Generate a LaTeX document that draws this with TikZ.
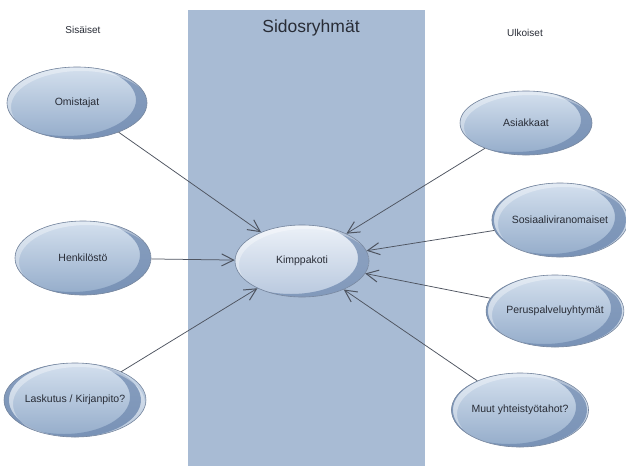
\documentclass[tikz,border=0pt]{standalone}
\usepackage{fontspec}
\setmainfont{Liberation Sans}
\usetikzlibrary{arrows.meta,shapes.geometric}

\definecolor{panel}{RGB}{168,187,212}
\definecolor{bubtop}{RGB}{212,224,238}
\definecolor{bubbot}{RGB}{148,172,202}
\definecolor{bubrim}{RGB}{118,134,158}
\definecolor{crescent}{RGB}{112,138,176}
\definecolor{hubtop}{RGB}{236,241,248}
\definecolor{hubbot}{RGB}{184,200,222}
\definecolor{wire}{RGB}{78,84,96}
\definecolor{ink}{RGB}{40,44,54}

\tikzset{
  % outer stakeholder bubble: #1 = x radius, #2 = y radius
  bubble/.style n args={2}{
    ellipse, draw=bubrim, line width=0.6pt, inner sep=0pt,
    minimum width={2*#1pt}, minimum height={2*#2pt},
    top color=bubtop, bottom color=bubbot,
    font=\fontsize{10.5}{12}\selectfont, text=ink,
    path picture={
      \fill[crescent, opacity=0.75, even odd rule]
        (path picture bounding box.center) ellipse [x radius=#1pt, y radius=#2pt]
        ([xshift=-11pt, yshift=3pt]path picture bounding box.center) ellipse [x radius=#1pt, y radius=#2pt];
      \fill[white, opacity=0.35, even odd rule]
        (path picture bounding box.center) ellipse [x radius=#1pt, y radius=#2pt]
        ([xshift=4pt, yshift=-4pt]path picture bounding box.center) ellipse [x radius=#1pt, y radius=#2pt];
    }},
  hub/.style n args={2}{
    bubble={#1}{#2}, top color=hubtop, bottom color=hubbot},
  heading/.style={text=ink, font=\fontsize{10}{12}\selectfont},
  link/.style={draw=wire, line width=0.75pt,
    -{Straight Barb[length=12pt,width=12pt,line width=1pt]}},
}

\begin{document}
\begin{tikzpicture}[x=1pt,y=-1pt]
  \useasboundingbox (0,0) rectangle (626,466);
  \fill[white] (0,0) rectangle (626,466);

  % central column
  \fill[panel] (188,10) rectangle (425,466);
  \node[text=ink, font=\fontsize{17.5}{20}\selectfont] (title) at (311,28) {Sidosryhmät};

  % column headings
  \node[heading] (sis) at (83,30) {Sisäiset};
  \node[heading] (ulk) at (525,33) {Ulkoiset};

  % stakeholders
  \node[hub={67}{36}]    (kim) at (302,261) {Kimppakoti};
  \node[bubble={70}{36}] (own) at (77,103)  {Omistajat};
  \node[bubble={68}{37}] (hen) at (83,258)  {Henkilöstö};
  \node[bubble={66}{37}] (las) at (75,400)  {Laskutus / Kirjanpito?};
  \node[bubble={66}{32}] (asi) at (526,123) {Asiakkaat};
  \node[bubble={66}{37}] (sos) at (560,220) {Sosiaaliviranomaiset};
  \node[bubble={67}{36}] (per) at (555,311) {Peruspalveluyhtymät};
  \node[bubble={67}{37}] (muu) at (520,410) {Muut yhteistyötahot?};

  % relations towards the centre
  \draw[link] (own) -- (kim);
  \draw[link] (hen) -- (kim);
  \draw[link] (las) -- (kim);
  \draw[link] (asi) -- (kim);
  \draw[link] (sos) -- (kim);
  \draw[link] (per) -- (kim);
  \draw[link] (muu) -- (kim);
\end{tikzpicture}
\end{document}
